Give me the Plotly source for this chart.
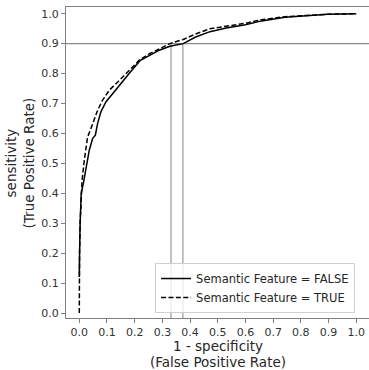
import plotly.graph_objects as go

# FALSE series (solid)
fpr_false = [0.0, 0.0, 0.001, 0.003, 0.007, 0.0145, 0.024, 0.036, 0.048, 0.058, 0.066, 0.078,
             0.096, 0.12, 0.144, 0.18, 0.219, 0.255, 0.291, 0.327, 0.375, 0.42, 0.472,
             0.53, 0.6, 0.658, 0.743, 0.82, 0.898, 1.0]
tpr_false = [0.12, 0.15, 0.2, 0.3, 0.4, 0.432, 0.488, 0.544, 0.583, 0.594, 0.633, 0.672,
             0.705, 0.733, 0.761, 0.80, 0.843, 0.862, 0.879, 0.891, 0.9, 0.922, 0.94,
             0.952, 0.963, 0.976, 0.988, 0.993, 0.998, 1.0]

# TRUE series (dashed)
fpr_true = [0.0, 0.0, 0.001, 0.003, 0.006, 0.01, 0.018, 0.03, 0.042, 0.054, 0.066, 0.084,
            0.108, 0.139, 0.175, 0.219, 0.255, 0.291, 0.327, 0.375, 0.42, 0.472, 0.53,
            0.6, 0.658, 0.743, 0.82, 0.898, 1.0]
tpr_true = [0.0, 0.12, 0.2, 0.3, 0.38, 0.443, 0.51, 0.588, 0.616, 0.644, 0.677, 0.711,
            0.744, 0.772, 0.805, 0.847, 0.867, 0.884, 0.9, 0.914, 0.932, 0.95, 0.958,
            0.968, 0.98, 0.99, 0.994, 0.998, 1.0]

threshold_tpr = 0.9
cutoff_fpr = [0.331, 0.374]

x_ticks = [0.0, 0.1, 0.2, 0.3, 0.4, 0.5, 0.6, 0.7, 0.8, 0.9, 1.0]
y_ticks = [0.0, 0.1, 0.2, 0.3, 0.4, 0.5, 0.6, 0.7, 0.8, 0.9, 1.0]
tick_text = ["0.0", "0.1", "0.2", "0.3", "0.4", "0.5", "0.6", "0.7", "0.8", "0.9", "1.0"]

x_title_lines = ["1 - specificity", "(False Positive Rate)"]
y_title = "sensitivity<br>(True Positive Rate)"

font_family = "DejaVu Sans"
ymin, ymax = -0.0167, 1.0224

fig = go.Figure()

# reference lines
fig.add_hline(y=threshold_tpr, line=dict(color="#8c8c8c", width=1.4), layer="below")
for cx in cutoff_fpr:
    fig.add_shape(type="line", x0=cx, x1=cx, y0=ymin, y1=threshold_tpr,
                  line=dict(color="#a8a8a8", width=1.4), layer="below")

fig.add_trace(go.Scatter(x=fpr_false, y=tpr_false, mode="lines",
                         name="Semantic Feature = FALSE",
                         line=dict(color="black", width=1.5)))
fig.add_trace(go.Scatter(x=fpr_true, y=tpr_true, mode="lines",
                         name="Semantic Feature = TRUE",
                         line=dict(color="black", width=1.5, dash="5px,2.4px")))

title_font = dict(size=13.5, family=font_family, color="#262626")
fig.update_layout(
    width=369, height=370,
    margin=dict(l=66, r=0, t=7, b=52, autoexpand=False),
    paper_bgcolor="white", plot_bgcolor="white",
    font=dict(family=font_family, color="#262626"),
    showlegend=True,
    legend=dict(x=0.294, y=0.016, xanchor="left", yanchor="bottom",
                bgcolor="rgba(255,255,255,0.8)", bordercolor="#d0d0d0", borderwidth=1,
                font=dict(size=11.5, family=font_family, color="#262626"),
                tracegroupgap=0, itemwidth=30),
    annotations=[
        dict(text=x_title_lines[0], xref="paper", yref="paper", x=0.5, y=-0.0915,
             xanchor="center", yanchor="middle", showarrow=False, font=title_font),
        dict(text=x_title_lines[1], xref="paper", yref="paper", x=0.5, y=-0.141,
             xanchor="center", yanchor="middle", showarrow=False, font=title_font),
        dict(text=y_title, xref="paper", yref="paper", x=-0.152, y=0.5,
             xanchor="center", yanchor="middle", showarrow=False, textangle=-90,
             font=title_font),
    ],
)

fig.update_xaxes(range=[-0.048, 1.046], tickvals=x_ticks, ticktext=tick_text,
                 showgrid=False, zeroline=False, showline=True, mirror=True,
                 linecolor="#808080", linewidth=1.2, ticks="outside", ticklen=4,
                 tickcolor="#808080", automargin=False,
                 tickfont=dict(size=11, family=font_family, color="#333333"))
fig.update_yaxes(range=[ymin, ymax], tickvals=y_ticks, ticktext=tick_text,
                 showgrid=False, zeroline=False, showline=True, mirror=False,
                 linecolor="#808080", linewidth=1.2, ticks="outside", ticklen=4,
                 tickcolor="#808080", automargin=False,
                 tickfont=dict(size=11, family=font_family, color="#333333"))

fig.write_html("out.html", post_script="document.body.style.margin='0';",
               config={"displayModeBar": False})
